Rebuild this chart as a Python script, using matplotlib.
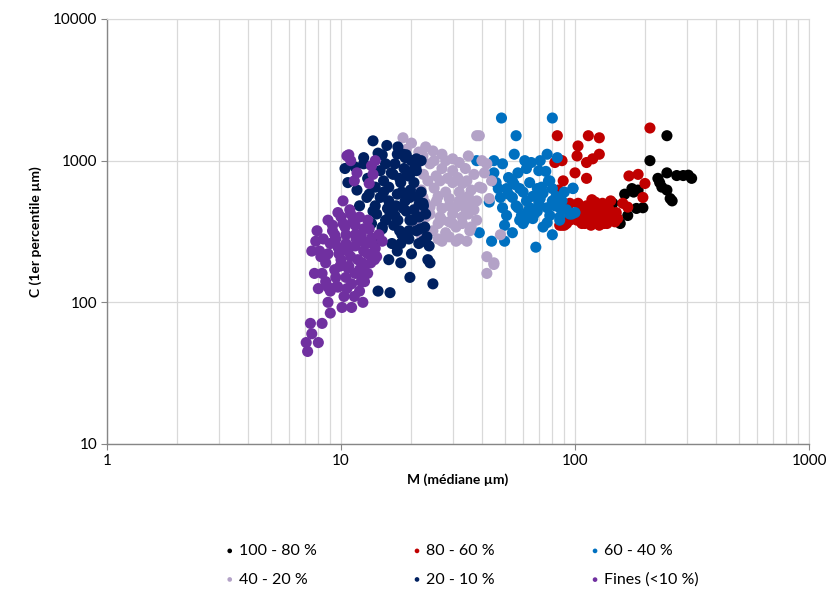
import matplotlib
matplotlib.use("Agg")
import matplotlib.pyplot as plt
from matplotlib.ticker import LogLocator, NullFormatter

plt.rcParams['font.family'] = ['Lato', 'DejaVu Sans']

# series: M (median, µm) and C (1st percentile, µm)
black_x = [247, 209, 247, 226, 235, 247, 260, 272, 290, 315, 305, 145, 156, 163, 175, 186,
           168, 183, 195, 141, 150, 178, 230, 255]
black_y = [1500, 1000, 820, 750, 650, 620, 520, 785, 785, 750, 790, 500, 360, 580, 635, 620,
           410, 460, 465, 440, 380, 600, 700, 540]

red_x = [209, 84, 114, 127, 103, 102, 127, 119, 112, 82, 88, 100, 112, 89, 85, 95, 186, 199,
         195, 168, 88, 86, 89,
         98, 102, 105, 108, 110, 112, 115, 118, 120, 122, 125, 128, 130, 132, 135, 138, 140,
         142, 145, 148, 150, 103, 107, 117, 127, 137, 113, 123, 133, 95, 92, 90, 118, 126,
         152, 160, 170, 106, 116, 131, 141, 121, 111, 136]
red_y = [1700, 1500, 1500, 1450, 1270, 1080, 1110, 1030, 970, 970, 1000, 820, 750, 720, 620,
         500, 800, 690, 550, 470, 350, 350, 360,
         420, 380, 450, 400, 360, 480, 420, 380, 450, 510, 400, 370, 440, 480, 410, 380, 450,
         520, 400, 370, 430, 500, 360, 350, 350, 360, 440, 390, 360, 380, 360, 350, 530, 460,
         390, 500, 780, 470, 460, 500, 420, 420, 400, 460]

blue_x = [48.5, 80, 56, 55, 61, 65, 71, 76, 45, 49, 45, 57, 54, 78, 47, 51, 58, 69, 80, 98,
          48, 54, 62, 71, 80, 49, 57, 64, 76, 86, 51, 59, 67, 78, 86, 97, 50, 60, 76, 86, 54,
          44, 50, 68, 38, 39, 43,
          52, 60, 66, 73, 83, 90, 56, 63, 70, 82, 92, 100, 46, 52, 62, 70, 58, 66, 73, 80,
          95, 88, 75, 84, 98, 77, 55, 64, 72, 85, 61, 69]
blue_y = [2000, 2000, 1500, 1110, 1000, 970, 1000, 1110, 1000, 950, 820, 820, 720, 720, 635,
          635, 635, 635, 635, 635, 550, 550, 520, 540, 520, 465, 465, 465, 465, 465, 410, 410,
          420, 410, 400, 420, 350, 360, 365, 380, 310, 270, 270, 245, 1000, 310, 510,
          580, 600, 560, 590, 560, 600, 480, 440, 500, 480, 450, 430, 700, 760, 880, 850,
          380, 390, 340, 300, 420, 520, 840, 1050, 640, 720, 680, 700, 650, 500, 380, 440]

lav_x = [18.4, 20, 38, 24.7, 27, 30, 32, 22.4, 35, 23.5, 26.5, 30, 33, 39, 22.4, 25.6, 29, 33,
         38, 23, 26.5, 30, 35, 38, 24.7, 28, 31, 35.5, 27, 31, 34.5, 42, 45, 42, 39, 42, 44,
         43, 40, 48, 45,
         21, 24, 27, 30, 34, 37, 22, 25, 28, 32, 36, 21, 24, 27, 31, 34, 37, 21, 26, 29, 33,
         36, 20, 19, 23, 40, 41, 26, 29, 32, 25,
         22.5, 25.5, 28.5, 31.5, 34.5, 23, 26, 29, 32, 35, 24, 27, 30, 33, 22, 36, 28, 21.5]
lav_y = [1450, 1330, 1500, 1170, 1110, 1030, 970, 1080, 1080, 720, 720, 700, 690, 650, 550,
         520, 540, 520, 520, 400, 400, 420, 420, 380, 320, 310, 340, 320, 270, 270, 270, 210,
         190, 160, 1500, 950, 720, 540, 640, 300, 185,
         900, 950, 880, 850, 880, 800, 620, 640, 600, 600, 620, 460, 470, 460, 470, 460, 450,
         350, 360, 370, 360, 340, 1000, 1200, 1250, 1000, 820, 280, 290, 280, 1000,
         800, 780, 750, 760, 720, 500, 560, 480, 520, 560, 420, 380, 360, 400, 300, 480, 1000, 1150]

navy_x = [13.7, 15.7, 10.4, 10.7, 11.7, 14.4, 17.4, 18.8, 20, 14.7, 16.7, 19, 12.9, 14.7, 17.4,
          19.7, 13.7, 16.2, 19, 21.6, 15, 17.8, 21, 23.3, 17.4, 20, 23.5, 19.7, 24.7, 18.4, 21,
          19.7, 21.6, 19.7, 22.4, 24, 14.4, 16.2,
          12.5, 13, 15.5, 17, 18, 20.5, 22, 12, 14, 16, 18.5, 20.5, 22.5, 16, 13.5, 15.5, 17.5,
          19.5, 21.5, 14.5, 16.5, 18, 23, 11.5, 12.5, 15, 17.5, 19, 21, 22,
          14, 15.2, 16.4, 18.2, 19.8, 21.2, 14.2, 15.8, 17.2, 18.8, 20.2, 22.8, 15, 16.8, 18.2,
          19.5, 21.8, 17, 18.6, 20.8, 23.8, 16, 18, 13.2, 15.2, 17.8, 19.4, 22.4]
navy_y = [1380, 1280, 880, 700, 620, 1130, 1110, 1050, 1000, 850, 800, 850, 550, 550, 580, 550,
          440, 420, 440, 400, 340, 320, 320, 290, 230, 220, 200, 150, 135, 1110, 1030, 800,
          500, 380, 270, 190, 120, 117,
          950, 750, 950, 950, 700, 700, 600, 480, 650, 650, 460, 450, 480, 520, 360, 380, 380,
          280, 260, 280, 260, 260, 420, 900, 1050, 1100, 1250, 1100, 850, 1000,
          480, 720, 820, 600, 620, 560, 420, 460, 480, 520, 380, 340, 330, 350, 300, 320, 330,
          410, 880, 900, 250, 200, 190, 580, 600, 750, 780, 500]

fines_x = [10.6, 11.7, 11.4, 13.5, 13.7, 13.2, 10.2, 9.7, 8.8, 7.9, 9.2, 10.4, 7.5, 8.1, 8.8,
           9.7, 10.7, 12.3, 13.5, 15, 7.7, 8.3, 9.4, 10.7, 12.3, 13.9, 8, 8.8, 9.7, 11.1, 12.6,
           8.8, 10.1, 11.1, 12.4, 9, 7.4, 8.3, 7.5, 7.1, 8, 7.2,
           10, 11, 12, 13, 11.5, 12.5, 10.5, 11.5, 9.5, 10.5, 11.5, 12.5, 9, 10, 11, 12, 13,
           14, 9.5, 10.5, 11.5, 13, 12, 10.3, 11.4, 14.5, 7.8, 8.6, 9, 11, 14, 10.8,
           9.2, 10.2, 11.2, 12.2, 13.2, 8.4, 9.4, 10.4, 11.6, 12.8, 8.2, 9.8, 10.8, 11.8, 13.4,
           9.6, 10.6, 12.6, 8.6, 14.2, 12.2, 10.9, 9.9, 11.9, 13.6]
fines_y = [1080, 820, 720, 920, 800, 690, 520, 430, 380, 320, 320, 340, 230, 230, 220, 245,
           230, 270, 285, 270, 160, 160, 170, 175, 190, 200, 125, 128, 128, 135, 140, 100, 92,
           92, 100, 84, 71, 71, 60, 52, 52, 45,
           400, 420, 400, 380, 350, 330, 300, 300, 280, 260, 250, 230, 260, 200, 210, 170, 220,
           240, 150, 150, 160, 160, 120, 110, 110, 300, 270, 190, 120, 1000, 1000, 1100,
           350, 360, 370, 300, 330, 280, 300, 240, 280, 260, 210, 220, 180, 200, 190,
           130, 125, 180, 140, 210, 140, 450, 180, 160, 260]

series = [
    ('100 - 80 %', black_x, black_y, '#000000'),
    ('80 - 60 %', red_x, red_y, '#c00000'),
    ('60 - 40 %', blue_x, blue_y, '#0070c0'),
    ('40 - 20 %', lav_x, lav_y, '#b3a2c7'),
    ('20 - 10 %', navy_x, navy_y, '#002060'),
    ('Fines (<10 %)', fines_x, fines_y, '#7030a0'),
]

fig = plt.figure(figsize=(8.32, 5.97), dpi=100)
ax = fig.add_axes([0.1286, 0.2563, 0.8438, 0.7119])

handles = {}
for label, x, y, c in series:
    handles[label] = ax.scatter(x, y, s=64, color=c, edgecolors='none', label=label, zorder=3)

ax.set_xscale('log')
ax.set_yscale('log')
ax.set_xlim(1, 1000)
ax.set_ylim(10, 10000)

ax.xaxis.set_minor_locator(LogLocator(base=10, subs=range(2, 10), numticks=20))
ax.xaxis.set_minor_formatter(NullFormatter())
ax.yaxis.set_minor_locator(LogLocator(base=10, subs=range(2, 10), numticks=20))
ax.yaxis.set_minor_formatter(NullFormatter())
ax.set_xticks([1, 10, 100, 1000])
ax.set_xticklabels(['1', '10', '100', '1000'])
ax.set_yticks([10, 100, 1000, 10000])
ax.set_yticklabels(['10', '100', '1000', '10000'])

ax.grid(True, which='major', axis='both', color='#d9d9d9', lw=0.9, zorder=0)
ax.grid(True, which='minor', axis='x', color='#d9d9d9', lw=0.9, zorder=0)
ax.set_axisbelow(True)

for s in ['top', 'right']:
    ax.spines[s].set_color('#d9d9d9')
for s in ['left', 'bottom']:
    ax.spines[s].set_color('#868686')
    ax.spines[s].set_linewidth(1.0)

ax.tick_params(which='major', length=4, color='#868686', labelsize=11, pad=3)
ax.tick_params(which='minor', length=0)

ax.set_xlabel('M (médiane µm)', fontsize=10, fontweight='bold', labelpad=4)
ax.set_ylabel('C (1er percentile µm)', fontsize=10, fontweight='bold', labelpad=8)

order = ['100 - 80 %', '40 - 20 %', '80 - 60 %', '20 - 10 %', '60 - 40 %', 'Fines (<10 %)']
fig.legend([handles[k] for k in order], order, loc='center', ncol=3,
           bbox_to_anchor=(0.553, 0.053), frameon=False, fontsize=11.5,
           markerscale=0.42, handletextpad=0.05, columnspacing=5.8, labelspacing=0.9,
           handlelength=1.0)

fig.savefig('out.png', dpi=100)
